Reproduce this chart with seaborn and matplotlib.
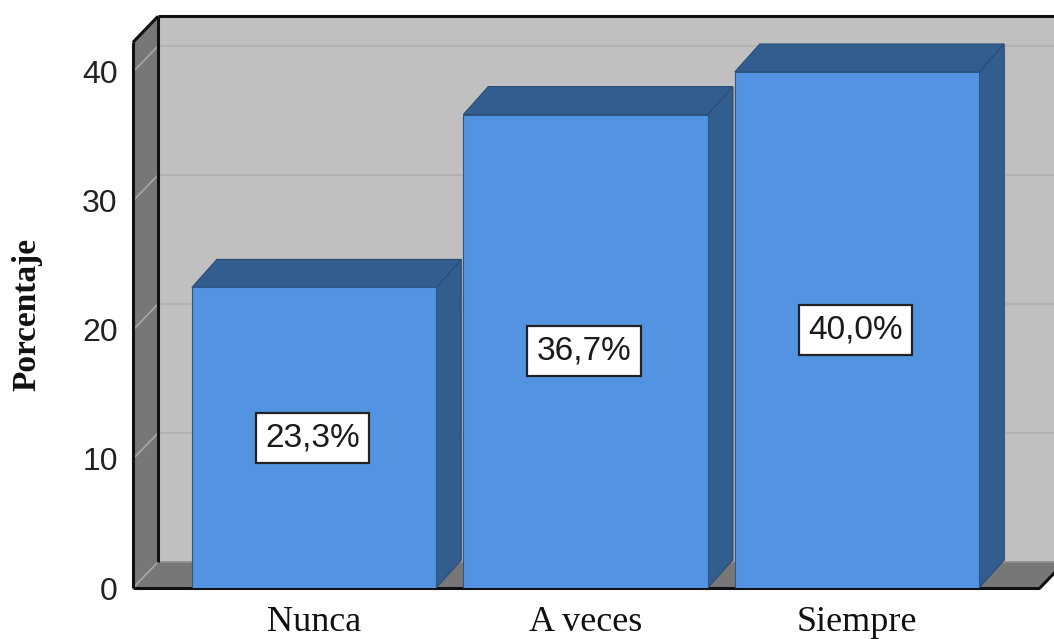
import matplotlib
matplotlib.use("Agg")
import matplotlib.pyplot as plt
from matplotlib.patches import Polygon, Rectangle
import seaborn as sns
import pandas as pd

# Data
categories = ["Nunca", "A veces", "Siempre"]
percentages = [23.3, 36.7, 40.0]
y_ticks = [0, 10, 20, 30, 40]
y_label = "Porcentaje"

sns.set_theme(style="white")
plt.rcParams["font.family"] = ["Liberation Sans", "DejaVu Sans"]

FRONT = "#5394E2"
SHADE = "#325D8F"
WALL_BACK = "#C0C0C0"
WALL_DARK = "#777777"

W_PX, H_PX = 1054, 639
fig = plt.figure(figsize=(W_PX / 100, H_PX / 100), dpi=100)
ax_left, ax_bottom, ax_w, ax_h = 133, 51, 921, 588
ax = fig.add_axes([ax_left / W_PX, ax_bottom / H_PX, ax_w / W_PX, ax_h / H_PX])

df = pd.DataFrame({"cat": categories, "pct": percentages})
sns.barplot(data=df, x="cat", y="pct", order=categories, color=FRONT,
            saturation=1, width=0.9, edgecolor="#2E5584", linewidth=0.8,
            ax=ax, zorder=5)
bars = list(ax.patches)

x_lo, x_hi = -0.667, 2.726
y_lo, y_hi = 0, 45.58
ax.set_xlim(x_lo, x_hi)
ax.set_ylim(y_lo, y_hi)

# pixel -> data conversion for the depth effect
px_x = ax_w / (x_hi - x_lo)
px_y = ax_h / (y_hi - y_lo)
wdx, wdy = 25 / px_x, 26 / px_y      # wall depth
bdx, bdy = 25 / px_x, 28 / px_y      # bar depth
xl, xr = x_lo, 2.674
wall_top = 42.3

# back wall with gridlines
ax.add_patch(Rectangle((xl + wdx, wdy), xr - xl + 0.2, wall_top, fc=WALL_BACK,
                       ec="none", zorder=0, clip_on=False))
for t in y_ticks[1:]:
    ax.plot([xl + wdx, xr + wdx + 0.2], [t + wdy, t + wdy], color="#B2B2B2",
            lw=1.5, zorder=0.5, clip_on=False)
# left wall
ax.add_patch(Polygon([(xl, 0), (xl + wdx, wdy), (xl + wdx, wall_top + wdy), (xl, wall_top)],
                     closed=True, fc=WALL_DARK, ec="none", zorder=1, clip_on=False))
for t in y_ticks[1:]:
    ax.plot([xl, xl + wdx], [t, t + wdy], color="#A8A8A8", lw=1.2, zorder=1.2, clip_on=False)
# floor
ax.add_patch(Polygon([(xl, 0), (xr, 0), (xr + wdx, wdy), (xl + wdx, wdy)],
                     closed=True, fc=WALL_DARK, ec="none", zorder=1, clip_on=False))
ax.plot([xl + wdx, xr + wdx], [wdy, wdy], color="#8E8E8E", lw=1.2, zorder=1.1, clip_on=False)
ax.plot([xl, xl + wdx], [0, wdy], color="#A8A8A8", lw=1.2, zorder=1.2, clip_on=False)

# frame edges
edge = dict(color="#111111", lw=2.2, zorder=2, clip_on=False, solid_capstyle="butt")
ax.plot([xl, xl], [0, wall_top], **edge)
ax.plot([xl + wdx, xl + wdx], [wdy, wall_top + wdy], **edge)
ax.plot([xl, xl + wdx], [wall_top, wall_top + wdy], **edge)
ax.plot([xl + wdx, x_hi + 0.1], [wall_top + wdy, wall_top + wdy], **edge)
ax.plot([xl, xr], [0, 0], **edge)
ax.plot([xr, xr + wdx], [0, wdy], **edge)

# 3D sides and tops for each bar
for b, v in zip(bars, percentages):
    x0 = b.get_x()
    x1 = x0 + b.get_width()
    h = b.get_height()
    side = Polygon([(x1, 0), (x1 + bdx, bdy), (x1 + bdx, h + bdy), (x1, h)], closed=True,
                   fc=SHADE, ec="#2A4C76", lw=0.8, zorder=4)
    top = Polygon([(x0, h), (x1, h), (x1 + bdx, h + bdy), (x0 + bdx, h + bdy)], closed=True,
                  fc=SHADE, ec="#2A4C76", lw=0.8, zorder=4)
    ax.add_patch(side)
    ax.add_patch(top)
    ax.plot([x1 + bdx, x1 + bdx], [bdy, h + bdy], color="#8A8A8A", lw=1.0, zorder=3.9)
    ax.text(x0 + b.get_width() / 2 - 0.005, h / 2, f"{v:.1f}%".replace(".", ","),
            ha="center", va="center", fontsize=24, color="#1A1A1A", zorder=7,
            bbox=dict(boxstyle="square,pad=0.28", fc="white", ec="#222222", lw=1.6))

# axes text
ax.set_yticks(y_ticks)
ax.set_yticklabels([str(t) for t in y_ticks], fontsize=23, color="#222222")
ax.set_xticks(range(len(categories)))
ax.set_xticklabels(categories, fontsize=26, family=["Liberation Serif"], color="#111111")
ax.tick_params(axis="y", length=0, pad=11)
ax.tick_params(axis="x", length=0, pad=13)
ax.set_xlabel("")
ax.set_ylabel(y_label, fontsize=24, fontweight="bold", family=["Liberation Serif"],
              color="#111111")
ax.yaxis.set_label_coords(-0.098, 0.465)
for s in ax.spines.values():
    s.set_visible(False)
ax.grid(False)
ax.set_facecolor("none")

fig.savefig("out.png", dpi=100, facecolor="white")
